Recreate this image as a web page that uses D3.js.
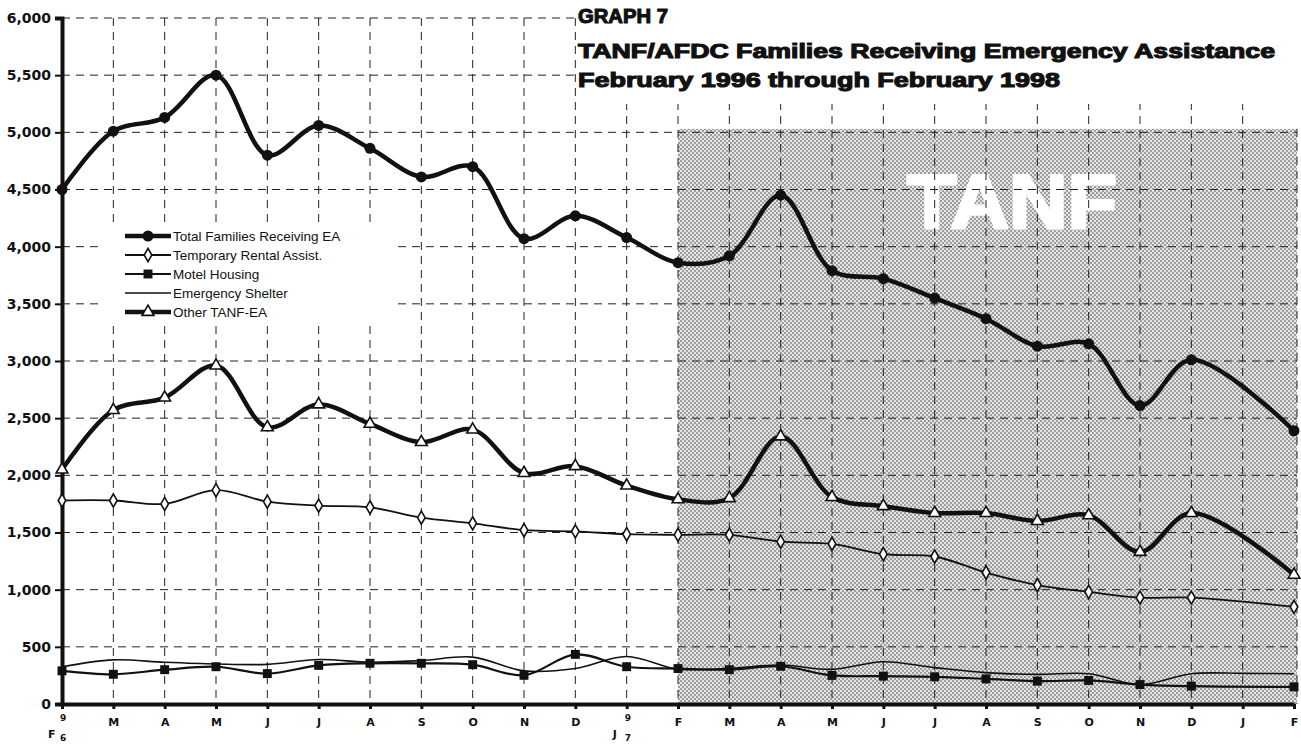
<!DOCTYPE html>
<html>
<head>
<meta charset="utf-8">
<script src="https://cdn.jsdelivr.net/npm/d3@7"></script>
<style>
  body { margin: 0; background: #fff; }
  svg { display: block; }
</style>
</head>
<body>
<script>
// months Feb 1996 .. Feb 1998
var months = ["F","M","A","M","J","J","A","S","O","N","D","J","F","M","A","M","J","J","A","S","O","N","D","J","F"];
var yTicks = [0,500,1000,1500,2000,2500,3000,3500,4000,4500,5000,5500,6000];

// series (null = no point that month)
var totalEA    = [4500,5010,5130,5500,4800,5060,4860,4610,4700,4070,4270,4080,3860,3920,4450,3790,3720,3550,3370,3130,3150,2610,3010,null,2390];
var tempRental = [1780,1780,1750,1870,1770,1735,1720,1630,1580,1520,1510,1485,1480,1480,1420,1400,1310,1290,1150,1040,980,930,930,null,850];
var motel      = [290,260,300,326,266,338,356,356,344,251,434,326,310,300,330,250,244,238,220,200,206,170,156,null,150];
var shelter    = [326,386,365,350,347,389,365,380,410,290,311,416,305,312,341,303,370,318,274,259,265,170,265,268,265];
var otherTANF  = [2050,2570,2680,2960,2420,2620,2450,2290,2400,2020,2080,1910,1790,1800,2340,1810,1730,1670,1670,1600,1650,1330,1670,null,1130];

var legendNames = ["Total Families Receiving EA","Temporary Rental Assist.","Motel  Housing","Emergency Shelter","Other TANF-EA"];
var titleLines = ["GRAPH 7","TANF/AFDC Families Receiving Emergency Assistance","February 1996 through February 1998"];
var tanfStart = 12;     // TANF begins Feb 1997
var tanfTop = 5030;

var W = 1301, H = 744;
var svg = d3.select("body").append("svg").attr("width", W).attr("height", H);

var x = d3.scalePoint().domain(d3.range(months.length)).range([62, 1294]);
var y = d3.scaleLinear().domain([0, 6000]).range([704, 18]);

// dotted halftone pattern for the TANF period
var defs = svg.append("defs");
var pat = defs.append("pattern").attr("id", "dots")
    .attr("patternUnits", "userSpaceOnUse").attr("width", 4).attr("height", 4);
pat.append("rect").attr("width", 4).attr("height", 4).attr("fill", "#e4e4e4");
pat.append("circle").attr("cx", 1).attr("cy", 1).attr("r", 0.8).attr("fill", "#444");
pat.append("circle").attr("cx", 3).attr("cy", 3).attr("r", 0.8).attr("fill", "#444");

svg.append("rect")
    .attr("x", x(tanfStart)).attr("y", y(tanfTop))
    .attr("width", x(months.length - 1) - x(tanfStart) + 3)
    .attr("height", y(0) - y(tanfTop))
    .attr("fill", "url(#dots)");

// big TANF label
svg.append("text")
    .attr("x", 907).attr("y", 228)
    .attr("textLength", 210).attr("lengthAdjust", "spacingAndGlyphs")
    .style("font-family", "Liberation Sans, Arial, sans-serif")
    .style("font-weight", "bold").style("font-size", "76px")
    .attr("fill", "#fff").attr("stroke", "#fff").attr("stroke-width", 3).attr("stroke-linejoin", "round")
    .text("TANF");

// dashed grid
var grid = svg.append("g").attr("stroke", "#222").attr("stroke-width", 1).attr("stroke-dasharray", "8,6");
grid.selectAll(".hg").data(yTicks.slice(1)).enter().append("line")
    .attr("x1", x(0)).attr("x2", x(months.length - 1) + 3)
    .attr("y1", function(d) { return y(d); }).attr("y2", function(d) { return y(d); });
grid.selectAll(".vg").data(d3.range(1, months.length)).enter().append("line")
    .attr("x1", function(d) { return x(d) + (d == months.length - 1 ? 3 : 0); })
    .attr("x2", function(d) { return x(d) + (d == months.length - 1 ? 3 : 0); })
    .attr("y1", function(d) { return d == months.length - 1 ? y(tanfTop) : y(6000); })
    .attr("y2", y(0));

// white boxes behind title and legend
svg.append("rect").attr("x", 576).attr("y", 0).attr("width", W - 576).attr("height", 104).attr("fill", "#fff");
svg.append("rect").attr("x", 104).attr("y", 222).attr("width", 294).attr("height", 104).attr("fill", "#fff");

// axes
var yAxis = svg.append("g").attr("transform", "translate(" + x(0) + ",0)")
    .call(d3.axisLeft(y).tickValues(yTicks).tickFormat(d3.format(",")).tickSize(7).tickPadding(4));
yAxis.select(".domain").attr("stroke", "#111").attr("stroke-width", 4);
yAxis.selectAll(".tick line").attr("stroke", "#111").attr("stroke-width", 2);
yAxis.selectAll(".tick text")
    .style("font-family", "DejaVu Sans, sans-serif").style("font-weight", "bold").style("font-size", "14px")
    .attr("fill", "#111");

var xAxis = svg.append("g").attr("transform", "translate(0," + y(0) + ")")
    .call(d3.axisBottom(x).tickSize(5).tickSizeOuter(0).tickFormat(function(d) {
      return (d == 0 || d == 11) ? "" : months[d];
    }));
xAxis.select(".domain").attr("stroke", "#111").attr("stroke-width", 4);
xAxis.selectAll(".tick line").attr("stroke", "#111").attr("stroke-width", 3);
xAxis.selectAll(".tick text")
    .attr("y", 14)
    .style("font-family", "DejaVu Sans, sans-serif").style("font-weight", "bold").style("font-size", "11px")
    .attr("fill", "#111");

// stacked year labels (F 96, J 97)
function yearLabel(i, letter, yr) {
  var g = svg.append("g").style("font-family", "DejaVu Sans, sans-serif")
      .style("font-weight", "bold").attr("fill", "#111");
  g.append("text").attr("x", x(i) - 14).attr("y", 738).style("font-size", "11px").text(letter);
  g.append("text").attr("x", x(i) - 2).attr("y", 721).style("font-size", "9px").text(yr[0]);
  g.append("text").attr("x", x(i) - 2).attr("y", 741).style("font-size", "9px").text(yr[1]);
}
yearLabel(0, "F", "96");
yearLabel(11, "J", "97");

// series
var series = [
  {name: legendNames[4], values: otherTANF,  width: 4.5, marker: "triangle"},
  {name: legendNames[0], values: totalEA,    width: 4.5, marker: "circle"},
  {name: legendNames[1], values: tempRental, width: 1.8, marker: "diamond"},
  {name: legendNames[3], values: shelter,    width: 1.6, marker: "none"},
  {name: legendNames[2], values: motel,      width: 2.2, marker: "square"}
];

var line = d3.line()
    .x(function(d) { return x(d.i); })
    .y(function(d) { return y(d.v); })
    .curve(d3.curveCatmullRom.alpha(0.5));

function drawMarker(sel, type) {
  if (type == "circle") {
    sel.append("circle").attr("r", 5.5).attr("fill", "#111");
  } else if (type == "square") {
    sel.append("path").attr("d", d3.symbol().type(d3.symbolSquare).size(80)).attr("fill", "#111");
  } else if (type == "diamond") {
    sel.append("path").attr("d", d3.symbol().type(d3.symbolDiamond).size(50))
        .attr("fill", "#fff").attr("stroke", "#111").attr("stroke-width", 1.6);
  } else if (type == "triangle") {
    sel.append("path").attr("d", d3.symbol().type(d3.symbolTriangle).size(60))
        .attr("fill", "#fff").attr("stroke", "#111").attr("stroke-width", 1.6);
  }
}

series.forEach(function(s) {
  var pts = [];
  s.values.forEach(function(v, i) { if (v != null) pts.push({i: i, v: v}); });
  svg.append("path").datum(pts)
      .attr("d", line)
      .attr("fill", "none").attr("stroke", "#111")
      .attr("stroke-width", s.width).attr("stroke-linejoin", "round");
  if (s.marker != "none") {
    svg.append("g").selectAll("g").data(pts).enter().append("g")
        .attr("transform", function(d) { return "translate(" + x(d.i) + "," + y(d.v) + ")"; })
        .each(function() { drawMarker(d3.select(this), s.marker); });
  }
});

// legend
var legendRows = [
  {name: legendNames[0], width: 4.5, marker: "circle"},
  {name: legendNames[1], width: 1.8, marker: "diamond"},
  {name: legendNames[2], width: 2.2, marker: "square"},
  {name: legendNames[3], width: 1.6, marker: "none"},
  {name: legendNames[4], width: 4.5, marker: "triangle"}
];
var legend = svg.append("g").attr("transform", "translate(125,236)");
legendRows.forEach(function(r, i) {
  var row = legend.append("g").attr("transform", "translate(0," + (i * 19) + ")");
  row.append("line").attr("x1", 0).attr("x2", 46).attr("stroke", "#111").attr("stroke-width", r.width);
  drawMarker(row.append("g").attr("transform", "translate(23,0)"), r.marker);
  row.append("text").attr("x", 48).attr("y", 5)
      .style("font-family", "Liberation Sans, Arial, sans-serif").style("font-size", "13.5px")
      .attr("fill", "#111").text(r.name);
});

// title
var titleWidths = [90, 697, 482];
var titleY = [23, 58, 87];
titleLines.forEach(function(t, i) {
  svg.append("text")
      .attr("x", 578).attr("y", titleY[i])
      .attr("textLength", titleWidths[i]).attr("lengthAdjust", "spacingAndGlyphs")
      .style("font-family", "Liberation Sans, Arial, sans-serif")
      .style("font-weight", "bold").style("font-size", "20px")
      .attr("fill", "#111").attr("stroke", "#111").attr("stroke-width", 1.1)
      .text(t);
});
</script>
</body>
</html>
